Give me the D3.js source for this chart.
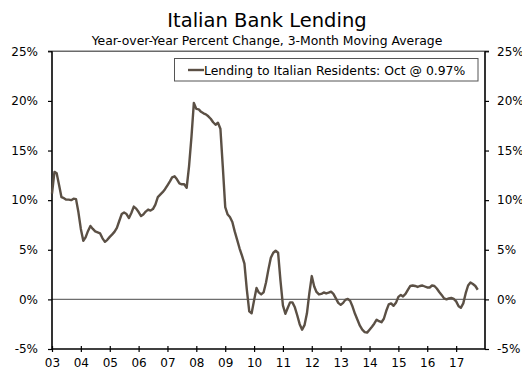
<!DOCTYPE html>
<html>
<head>
<meta charset="utf-8">
<script src="https://d3js.org/d3.v7.min.js"></script>
<style>
  html, body { margin: 0; padding: 0; background: #fff; }
  svg { display: block; font-family: "DejaVu Sans", Verdana, sans-serif; }
</style>
</head>
<body>
<svg id="chart" width="522" height="369"></svg>
<script>
// Italian bank lending, y/y % change, 3-month moving average, monthly from Jan 2003
const startMonth = new Date(2003, 0, 1);
const lendingValues = [
  10.65, 12.85, 12.7, 11.5, 10.3, 10.2, 10.05, 10.05, 10.0, 10.15, 10.1, 8.8,
  7.1, 5.9, 6.25, 6.9, 7.4, 7.1, 6.85, 6.75, 6.65, 6.15, 5.8, 6.0,
  6.3, 6.55, 6.8, 7.2, 7.9, 8.6, 8.75, 8.6, 8.2, 8.7, 9.35, 9.15,
  8.8, 8.4, 8.55, 8.85, 9.05, 8.95, 9.1, 9.55, 10.3, 10.55, 10.8, 11.1,
  11.5, 11.9, 12.3, 12.4, 12.1, 11.7, 11.6, 11.6, 11.25, 13.4, 16.4, 19.8,
  19.2, 19.15, 18.9, 18.75, 18.65, 18.45, 18.2, 17.85, 17.6, 17.8, 17.2, 13.4,
  9.3, 8.55, 8.3, 7.8, 6.85, 6.0, 5.15, 4.4, 3.6, 1.0, -1.2, -1.4,
  -0.1, 1.15, 0.7, 0.5, 0.7, 1.7, 3.0, 4.2, 4.7, 4.9, 4.7, 1.9,
  -0.6, -1.45, -0.9, -0.3, -0.3, -0.8, -1.6, -2.5, -3.05, -2.6, -1.4, 0.6,
  2.35, 1.3, 0.75, 0.5, 0.55, 0.7, 0.6, 0.68, 0.78, 0.55, 0.1, -0.35,
  -0.55, -0.35, -0.05, 0.05, -0.15, -0.75, -1.45, -2.05, -2.65, -3.05, -3.3, -3.35,
  -3.05, -2.75, -2.45, -2.05, -2.2, -2.3, -1.95, -1.15, -0.5, -0.4, -0.65, -0.35,
  0.25, 0.45, 0.3, 0.55, 0.95, 1.35, 1.4, 1.35, 1.25, 1.35, 1.4, 1.3,
  1.2, 1.2, 1.4, 1.35, 1.1, 0.75, 0.45, 0.1, 0.0, 0.1, 0.15, 0.05,
  -0.2, -0.7, -0.85, -0.4, 0.6, 1.4, 1.7, 1.55, 1.35, 0.97
];
const yTicks = [-5, 0, 5, 10, 15, 20, 25];
const xTickYears = [2003, 2004, 2005, 2006, 2007, 2008, 2009, 2010, 2011, 2012, 2013, 2014, 2015, 2016, 2017];
const titleText = "Italian Bank Lending";
const subtitleText = "Year-over-Year Percent Change, 3-Month Moving Average";
const legendText = "Lending to Italian Residents: Oct @ 0.97%";

const series = lendingValues.map((v, i) => ({
  date: new Date(startMonth.getFullYear(), startMonth.getMonth() + i, 1),
  value: v
}));

const svg = d3.select("#chart");
const plotLeft = 52, plotRight = 485, plotTop = 51.3, plotBottom = 349;

const x = d3.scaleTime()
  .domain([new Date(2003, 0, 1), new Date(2018, 0, 1)])
  .range([plotLeft, plotRight]);
const y = d3.scaleLinear().domain([-5, 25]).range([plotBottom, plotTop]);

// Titles
svg.append("text").attr("x", 267).attr("y", 27).attr("text-anchor", "middle")
  .attr("font-size", 19.5).attr("fill", "#000").text(titleText);
svg.append("text").attr("x", 267).attr("y", 44.5).attr("text-anchor", "middle")
  .attr("font-size", 12.4).attr("fill", "#000").text(subtitleText);

// Zero line
svg.append("line")
  .attr("x1", plotLeft).attr("x2", plotRight)
  .attr("y1", y(0)).attr("y2", y(0))
  .attr("stroke", "#6e6e6e").attr("stroke-width", 1.2);

// Top border
svg.append("line")
  .attr("x1", plotLeft - 4).attr("x2", plotRight + 4)
  .attr("y1", plotTop).attr("y2", plotTop)
  .attr("stroke", "#6a6a6a").attr("stroke-width", 1.6);

// Left axis
const gl = svg.append("g").attr("transform", `translate(${plotLeft},0)`)
  .call(d3.axisLeft(y).tickValues(yTicks).tickFormat(d => d + "%").tickSize(4).tickPadding(10));
// Right axis
const gr = svg.append("g").attr("transform", `translate(${plotRight},0)`)
  .call(d3.axisRight(y).tickValues(yTicks).tickFormat(d => d + "%").tickSize(4).tickPadding(8));
// Bottom axis
const gb = svg.append("g").attr("transform", `translate(0,${plotBottom})`)
  .call(d3.axisBottom(x).tickValues(xTickYears.map(yr => new Date(yr, 0, 1)))
    .tickFormat(d3.timeFormat("%y")).tickSize(3).tickPadding(6));
gb.selectAll(".tick line").attr("y1", -3);

[gl, gr, gb].forEach(g => {
  g.select(".domain").attr("stroke", "#000").attr("stroke-width", 1.6);
  g.selectAll(".tick line").attr("stroke", "#000").attr("stroke-width", 1.2);
  g.selectAll(".tick text").attr("font-size", 12).attr("fill", "#000")
    .attr("font-family", "DejaVu Sans, Verdana, sans-serif");
});
gl.select(".domain").attr("d", `M0,${plotTop}V${plotBottom}`);
gr.select(".domain").attr("d", `M0,${plotTop}V${plotBottom}`);
gb.select(".domain").attr("d", `M${plotLeft},0H${plotRight}`);

// Data line
const line = d3.line().x(d => x(d.date)).y(d => y(d.value)).curve(d3.curveLinear);
svg.append("path").datum(series)
  .attr("d", line)
  .attr("fill", "none")
  .attr("stroke", "#5b5045")
  .attr("stroke-width", 2.4)
  .attr("stroke-linejoin", "round");

// Legend
const lg = svg.append("g");
lg.append("rect").attr("x", 174.5).attr("y", 58.5).attr("width", 303.5).attr("height", 22.5)
  .attr("fill", "#fff").attr("stroke", "#555").attr("stroke-width", 1);
lg.append("line").attr("x1", 188).attr("x2", 204).attr("y1", 70).attr("y2", 70)
  .attr("stroke", "#5b5045").attr("stroke-width", 2.4);
lg.append("text").attr("x", 204).attr("y", 74.5).attr("font-size", 12.4).attr("fill", "#000")
  .text(legendText);
</script>
</body>
</html>
